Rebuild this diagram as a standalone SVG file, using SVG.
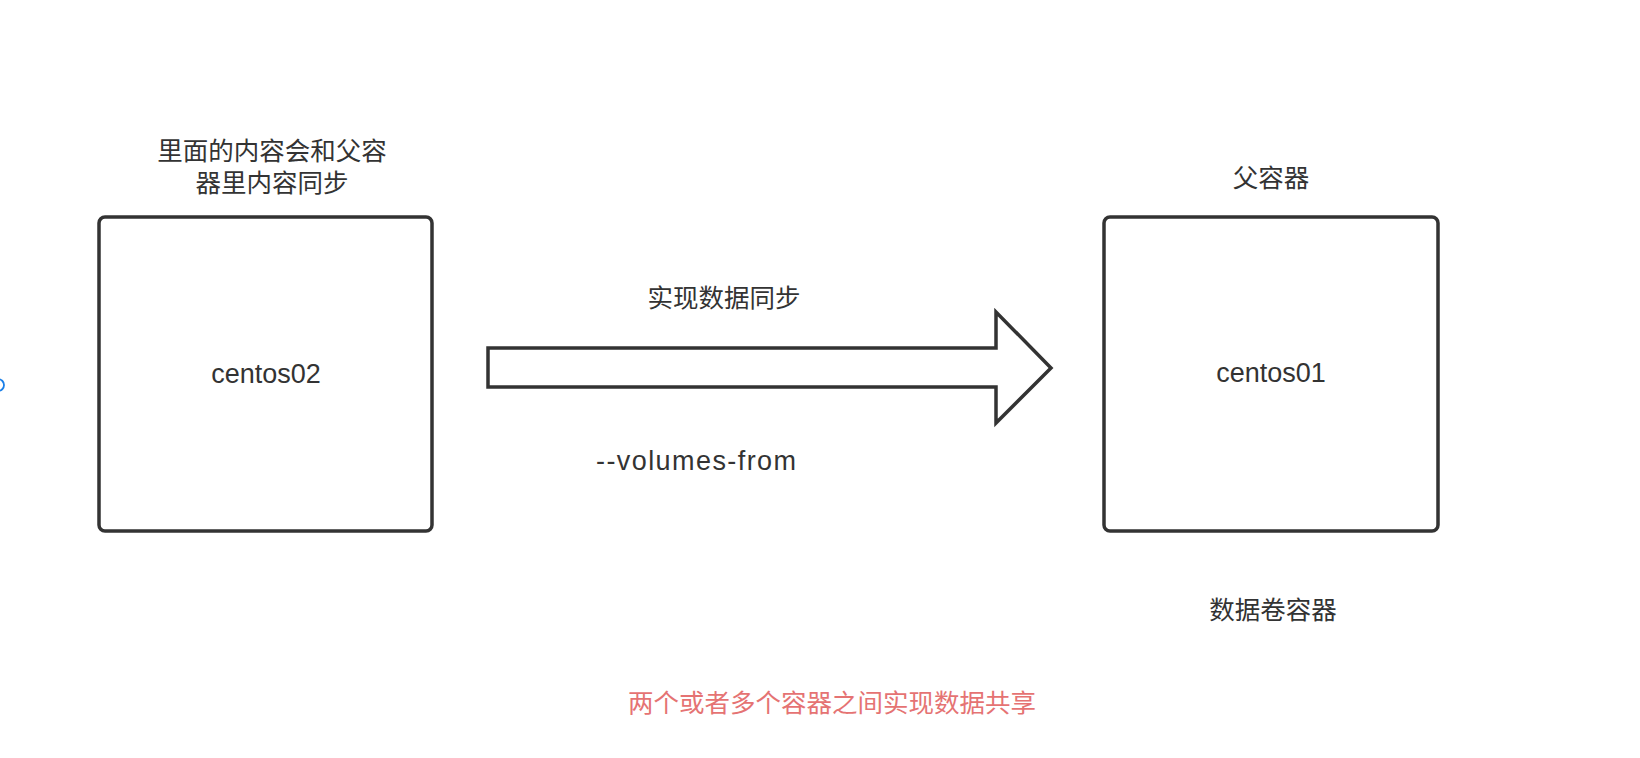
<svg xmlns="http://www.w3.org/2000/svg" width="1640" height="758" viewBox="0 0 1640 758">
<style>
.box{fill:#fff;stroke:#333;stroke-width:3.5}
.cjk{font-family:"Noto Sans CJK SC","Noto Sans",sans-serif;font-size:25.5px;fill:#333;text-anchor:middle}
.lat{font-family:"Liberation Sans",Arial,sans-serif;font-size:27px;fill:#333;text-anchor:middle}
.red{fill:#e57373}
.arrow{fill:#fff;stroke:#333;stroke-width:3.5;stroke-linejoin:miter}
</style>
<rect width="1640" height="758" fill="#fff"/>
<circle cx="-2" cy="385" r="6" fill="none" stroke="#1a7fe8" stroke-width="1.8"/>
<g id="centos02">
<rect class="box" x="99" y="217" width="333" height="314" rx="6"/>
<text class="lat" x="266" y="383">centos02</text>
<text class="cjk" x="272" y="160">里面的内容会和父容</text>
<text class="cjk" x="272" y="192">器里内容同步</text>
</g>
<g id="centos01">
<rect class="box" x="1104" y="217" width="334" height="314" rx="6"/>
<text class="lat" x="1271" y="382">centos01</text>
<text class="cjk" x="1271" y="187">父容器</text>
<text class="cjk" x="1273" y="619">数据卷容器</text>
</g>
<g id="connectors">
<polygon class="arrow" points="488,348 996,348 996,312 1051,368 996,423 996,387 488,387"/>
<text class="cjk" x="724" y="307">实现数据同步</text>
<text class="lat" x="696" y="470" textLength="200" lengthAdjust="spacing">--volumes-from</text>
</g>
<text class="cjk red" x="832" y="712">两个或者多个容器之间实现数据共享</text>
</svg>
